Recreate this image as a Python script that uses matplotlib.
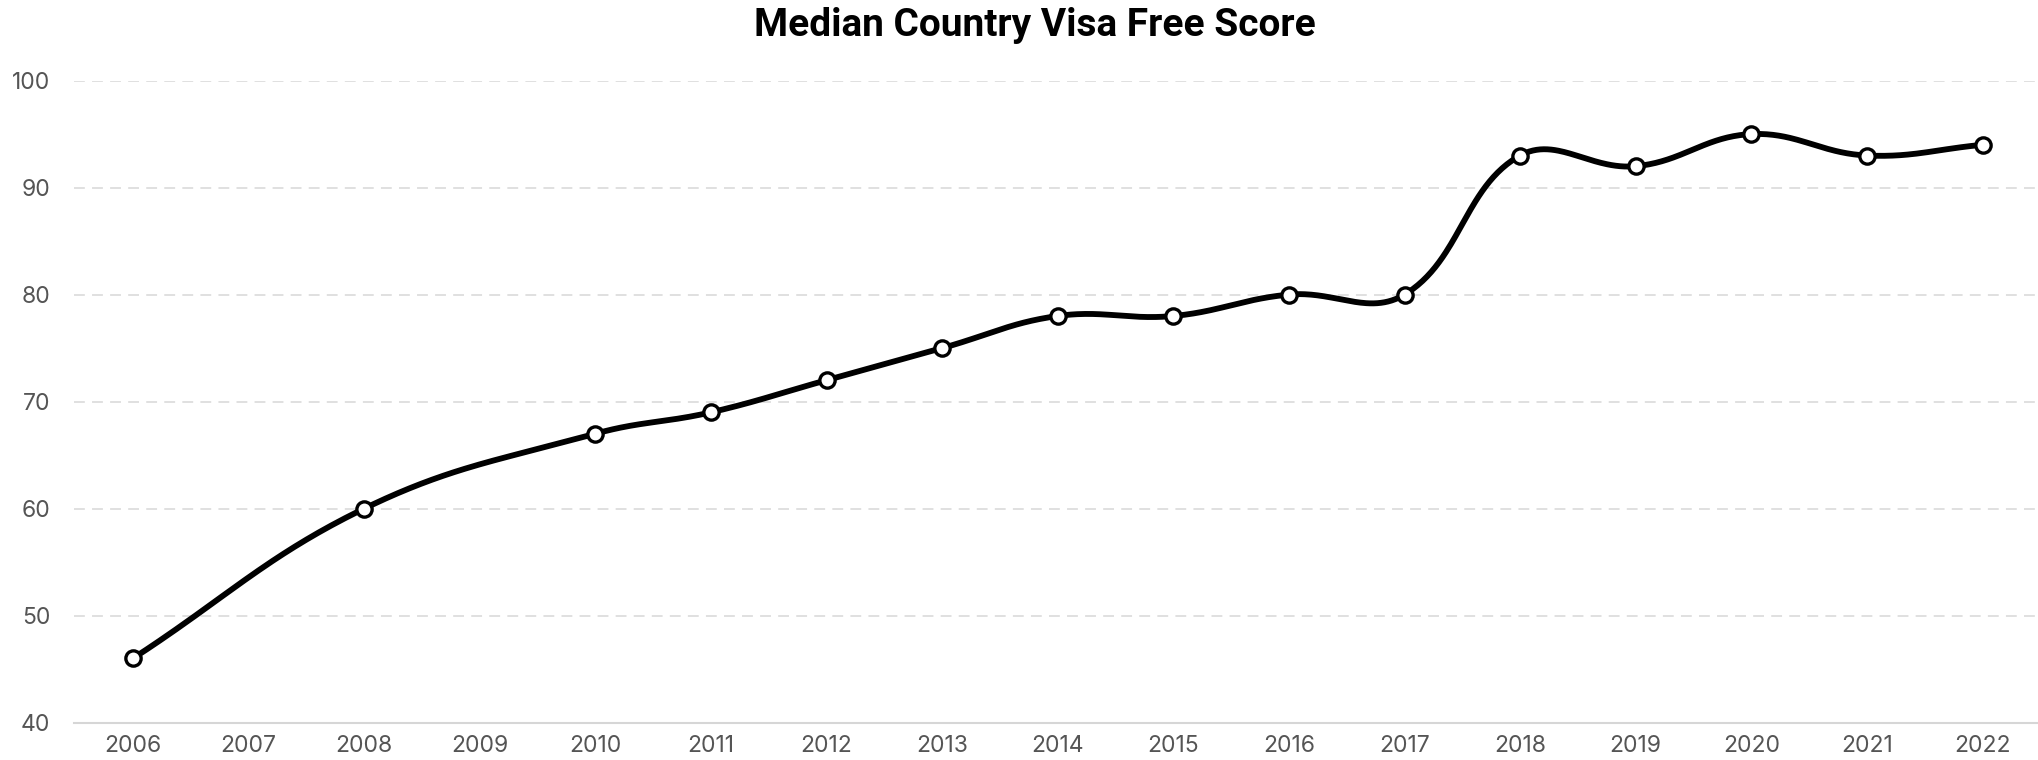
import numpy as np
import matplotlib
matplotlib.use("Agg")
import matplotlib.pyplot as plt

# Median visa-free score per year (2007 and 2009 have no reading)
years = [2006, 2007, 2008, 2009, 2010, 2011, 2012, 2013, 2014, 2015, 2016, 2017, 2018, 2019, 2020, 2021, 2022]
scores = [46, None, 60, None, 67, 69, 72, 75, 78, 78, 80, 80, 93, 92, 95, 93, 94]
y_ticks = [40, 50, 60, 70, 80, 90, 100]
title = "Median Country Visa Free Score"

W, H, DPI = 2038, 760, 100
fig = plt.figure(figsize=(W / DPI, H / DPI), dpi=DPI)
ax = fig.add_axes([74 / W, 1 - 722.6 / H, (W - 74) / W, (722.6 - 80.6) / H])

ax.set_xlim(years[0] - 0.51, years[-1] + 0.48)
ax.set_ylim(40, 100)

for s in ["left", "right", "top"]:
    ax.spines[s].set_visible(False)
ax.spines["bottom"].set_color("#d6d6d6")
ax.spines["bottom"].set_linewidth(1.5)

ax.set_yticks(y_ticks)
ax.set_xticks(years)
ax.set_xticklabels([str(y) for y in years])
ax.tick_params(axis="both", length=0, labelsize=16.5, labelcolor="#555555")
ax.tick_params(axis="y", pad=17)
ax.tick_params(axis="x", pad=9)
for lab in ax.get_xticklabels() + ax.get_yticklabels():
    lab.set_fontfamily("Inter")

for t in y_ticks[1:]:
    ax.axhline(t, color="#dddddd", lw=1.3, dashes=(6, 4), zorder=0)

fig.text(0.508, 1 - 26 / H, title, ha="center", va="center", fontsize=28,
         fontweight="bold", family="Roboto", color="#000000")

# Known points, skipping gaps
xs = np.array([y for y, v in zip(years, scores) if v is not None], dtype=float)
vs = np.array([v for v in scores if v is not None], dtype=float)

# Cardinal spline with tension 0.4 computed in pixel space
fig.canvas.draw()
P = ax.transData.transform(np.column_stack([xs, vs]))
n = len(P)
tension = 0.4
cp_prev = P.copy()
cp_next = P.copy()
for i in range(n):
    prev = P[max(i - 1, 0)]
    nxt = P[min(i + 1, n - 1)]
    cur = P[i]
    d01 = np.hypot(*(cur - prev))
    d12 = np.hypot(*(nxt - cur))
    tot = d01 + d12
    s01 = d01 / tot if tot else 0
    s12 = d12 / tot if tot else 0
    cp_prev[i] = cur - tension * s01 * (nxt - prev)
    cp_next[i] = cur + tension * s12 * (nxt - prev)

curve = []
tt = np.linspace(0, 1, 60)[:, None]
for i in range(n - 1):
    p0, p1, p2, p3 = P[i], cp_next[i], cp_prev[i + 1], P[i + 1]
    seg = ((1 - tt) ** 3) * p0 + 3 * ((1 - tt) ** 2) * tt * p1 + 3 * (1 - tt) * tt ** 2 * p2 + tt ** 3 * p3
    curve.append(seg if i == 0 else seg[1:])
curve = np.vstack(curve)
curve_data = ax.transData.inverted().transform(curve)

ax.plot(curve_data[:, 0], curve_data[:, 1], color="black", lw=4.2,
        solid_capstyle="round", solid_joinstyle="round", zorder=3, clip_on=False)
ax.plot(xs, vs, linestyle="none", marker="o", markersize=11, markerfacecolor="white",
        markeredgecolor="black", markeredgewidth=2.4, zorder=4, clip_on=False)

fig.savefig("out.png", dpi=DPI, facecolor="white")
